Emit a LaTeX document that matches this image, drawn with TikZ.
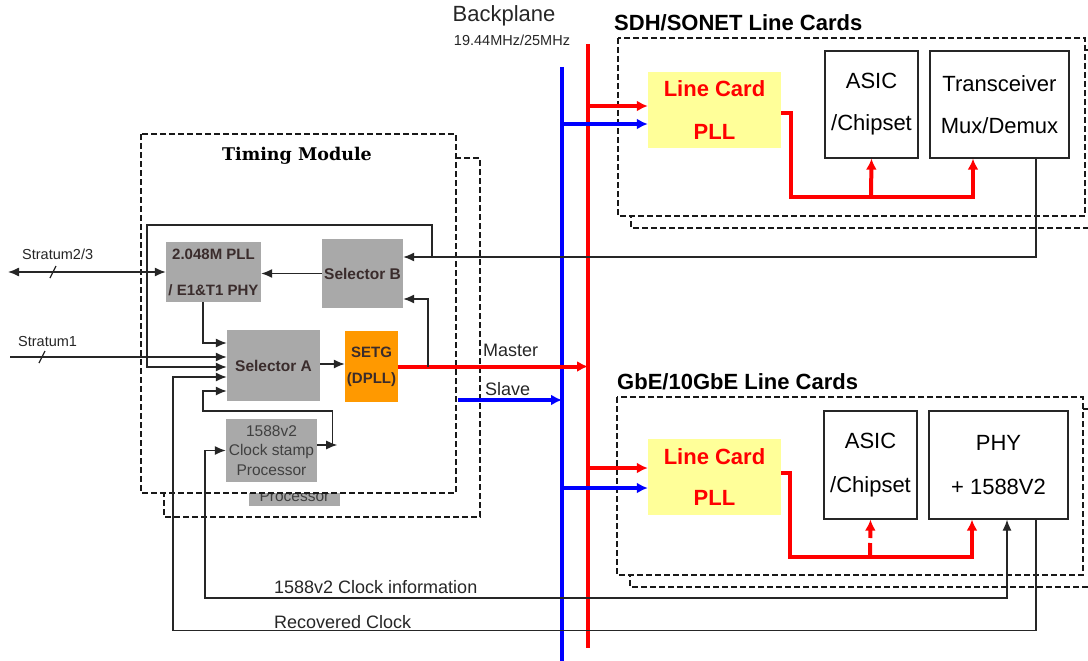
\documentclass[tikz,border=0pt]{standalone}
\usepackage{fontspec}
\setmainfont{Liberation Sans}
\newfontfamily\headserif{DejaVu Serif}
\usetikzlibrary{arrows.meta,calc}

\definecolor{boxgray}{HTML}{A9A9A9}
\definecolor{boxtext}{HTML}{3A2C2C}
\definecolor{setgorange}{HTML}{FF9900}
\definecolor{pllyellow}{HTML}{FFFF99}
\definecolor{bpred}{HTML}{FF0000}
\definecolor{bpblue}{HTML}{0000FF}

\begin{document}
\begin{tikzpicture}[x=1pt,y=-1pt,
  wire/.style={draw=black!85, line width=1.3pt},
  tip/.style={-{Latex[length=11pt,width=9pt]}},
  bothtip/.style={{Latex[length=11pt,width=9pt]}-{Latex[length=11pt,width=9pt]}},
  rbus/.style={draw=bpred, line width=4pt},
  bbus/.style={draw=bpblue, line width=4pt},
  rtip/.style={-{Latex[length=11pt,width=11pt]}},
  frame/.style={draw=black!90, line width=1.2pt, dash pattern=on 6pt off 3pt, fill=white},
  gbox/.style={fill=boxgray, inner sep=0pt, align=center, text=boxtext},
  wbox/.style={draw=black!85, line width=1.3pt, fill=white, inner sep=0pt, align=center},
  lcbox/.style={fill=pllyellow, inner sep=0pt, align=center, text=bpred},
  lbl/.style={inner sep=0pt, text=black!85},
]
\useasboundingbox (0,0) rectangle (1088,661);

% ---- card outlines (a second card sits behind each one) ----
\draw[frame] (164,158) rectangle (480,517);
\node[gbox, minimum width=91pt, minimum height=63pt] (ptpb) at (294.5,474.5) {};
\node[lbl, font=\fontsize{15.5}{19.5}\selectfont, text=black!75] at (294.5,496) {Processor};
\draw[frame] (141,134) rectangle (456,493);

\draw[frame] (631,50) rectangle (1100,228);
\draw[frame] (618,38) rectangle (1085,216);
\draw[frame] (630,409) rectangle (1100,587);
\draw[frame] (617,397) rectangle (1083,575);

% ---- timing module blocks ----
\node[gbox, minimum width=95pt, minimum height=60pt,
      font=\fontsize{15}{36}\selectfont\bfseries] (pll) at (213.5,272)
      {2.048M PLL\\/ E1\&T1 PHY};
\node[gbox, minimum width=81pt, minimum height=69pt,
      font=\fontsize{15.5}{18}\selectfont\bfseries] (selB) at (362.5,273.5) {Selector B};
\node[gbox, minimum width=93pt, minimum height=71pt,
      font=\fontsize{15.5}{18}\selectfont\bfseries] (selA) at (273.5,365.5) {Selector A};
\node[gbox, fill=setgorange, minimum width=53pt, minimum height=71pt,
      font=\fontsize{15}{26}\selectfont\bfseries] (setg) at (371.5,366.5) {SETG\\(DPLL)};
\node[gbox, minimum width=91pt, minimum height=63pt,
      font=\fontsize{15.5}{19.5}\selectfont, text=black!75] (ptp) at (271.5,450.5)
      {1588v2\\Clock stamp\\Processor};

% ---- line card blocks ----
\node[lcbox, minimum width=133pt, minimum height=76pt,
      font=\fontsize{22}{43}\selectfont\bfseries] (lcA) at (714.5,110) {Line Card\\PLL};
\node[wbox, minimum width=93pt, minimum height=107pt,
      font=\fontsize{22}{42}\selectfont] (asicA) at (871.5,104.5) {ASIC\\/Chipset};
\node[wbox, minimum width=139pt, minimum height=107pt,
      font=\fontsize{22}{42}\selectfont] (trx) at (999.5,104.5) {Transceiver\\Mux/Demux};

\node[lcbox, minimum width=133pt, minimum height=76pt,
      font=\fontsize{22}{41}\selectfont\bfseries] (lcB) at (714.5,477) {Line Card\\PLL};
\node[wbox, minimum width=93pt, minimum height=108pt,
      font=\fontsize{22}{44}\selectfont] (asicB) at (870.5,465) {ASIC\\/Chipset};
\node[wbox, minimum width=139pt, minimum height=108pt,
      font=\fontsize{22}{44}\selectfont] (phy) at (998.5,465) {PHY\\+ 1588V2};

% ---- backplane buses ----
\coordinate (rtop) at (588,44);  \coordinate (rbot) at (588,648);
\coordinate (btop) at (562,67);  \coordinate (bbot) at (562,661);
\draw[bbus] (btop) -- (bbot);
\draw[rbus] (rtop) -- (rbot);

% bus taps into the line card PLLs
\coordinate (raA) at (588,106);  \coordinate (baA) at (562,124);
\coordinate (raB) at (588,468);  \coordinate (baB) at (562,488);
\draw[rbus, rtip] (raA) -- (raA -| lcA.west);
\draw[bbus, rtip] (baA) -- (baA -| lcA.west);
\draw[rbus, rtip] (raB) -- (raB -| lcB.west);
\draw[bbus, rtip] (baB) -- (baB -| lcB.west);

% line card PLL clock distribution
\draw[rbus, rtip] ($(lcA.east)+(0,3)$) -| (791,197) -| ($(trx.south)+(-26.5,0)$);
\draw[rbus, rtip] (871,197) -- (asicA.south);
\draw[rbus, rtip] ($(lcB.east)+(0,-4)$) -| (790,557) -| ($(phy.south)+(-26.5,0)$);
\draw[rbus, rtip, dash pattern=on 14pt off 5pt] (870,557) -- (asicB.south);

% ---- master / slave outputs ----
\draw[rbus, rtip] (setg.east) -- (setg.east -| rtop);
\coordinate (sl) at (458,400);
\draw[bbus, rtip] (sl) -- (sl -| btop);

% ---- timing module wiring ----
\coordinate (s23) at (8,272);
\draw[wire, bothtip] (s23) -- (pll.west);
\draw[wire] (50,278) -- (56,266);
\coordinate (s1) at (10,357);
\draw[wire, tip] (s1) -- (s1 -| selA.west);
\draw[wire] (39,363) -- (45,351);

\draw[wire, tip] (selB.west) -- (selB.west -| pll.east);
\draw[wire, tip] ($(pll.south)+(-10.5,0)$) |- ($(selA.west)+(0,-22.5)$);
\draw[wire, tip] ($(selA.east)+(0,-1.5)$) -- ($(setg.west)+(0,-2.5)$);

\coordinate (mtap) at (428,366.5);
\draw[wire, tip] (mtap) |- ($(selB.east)+(0,25.5)$);

\draw[wire, tip] ($(trx.south)+(36.5,0)$) |- ($(selB.east)+(0,-16.5)$);
\coordinate (loop) at (432,257);
\draw[wire, tip] (loop) |- (147,225) |- ($(selA.west)+(0,1.5)$);

\draw[wire, tip] ($(ptp.east)+(0,-5.5)$) -- ++(20,0);
\draw[wire, tip] ($(ptp.east)+(15,-5.5)$) |- (203,411) |- ($(selA.west)+(0,25.5)$);

\draw[wire, tip] ($(phy.south)+(37.5,0)$) -- ++(0,111) -| (173,377) -- ($(selA.west)+(0,11.5)$);
\draw[wire, bothtip] (ptp.west) -- (205,450.5) |- (1007,598) -- ($(phy.south)+(8.5,0)$);

% ---- labels ----
\node[lbl, font=\headserif\fontsize{17.5}{20}\selectfont\bfseries, text=black] at (297,156) {Timing Module};
\node[lbl, font=\fontsize{14.5}{17}\selectfont, anchor=west] at (22,254) {Stratum2/3};
\node[lbl, font=\fontsize{14.5}{17}\selectfont, anchor=west] at (18,342) {Stratum1};
\node[lbl, font=\fontsize{18}{21}\selectfont, anchor=west] at (483,350) {Master};
\node[lbl, font=\fontsize{18}{21}\selectfont, anchor=west] at (485,389) {Slave};
\node[lbl, font=\fontsize{22}{26}\selectfont] at (504,16) {Backplane};
\node[lbl, font=\fontsize{14.5}{17}\selectfont] at (512,40) {19.44MHz/25MHz};
\node[lbl, font=\fontsize{22}{26}\selectfont\bfseries, text=black, anchor=west] at (614,23) {SDH/SONET Line Cards};
\node[lbl, font=\fontsize{22}{26}\selectfont\bfseries, text=black, anchor=west] at (617,382) {GbE/10GbE Line Cards};
\node[lbl, font=\fontsize{18}{21}\selectfont, anchor=west] at (274,587) {1588v2 Clock information};
\node[lbl, font=\fontsize{18}{21}\selectfont, anchor=west] at (274,622) {Recovered Clock};
\end{tikzpicture}
\end{document}
